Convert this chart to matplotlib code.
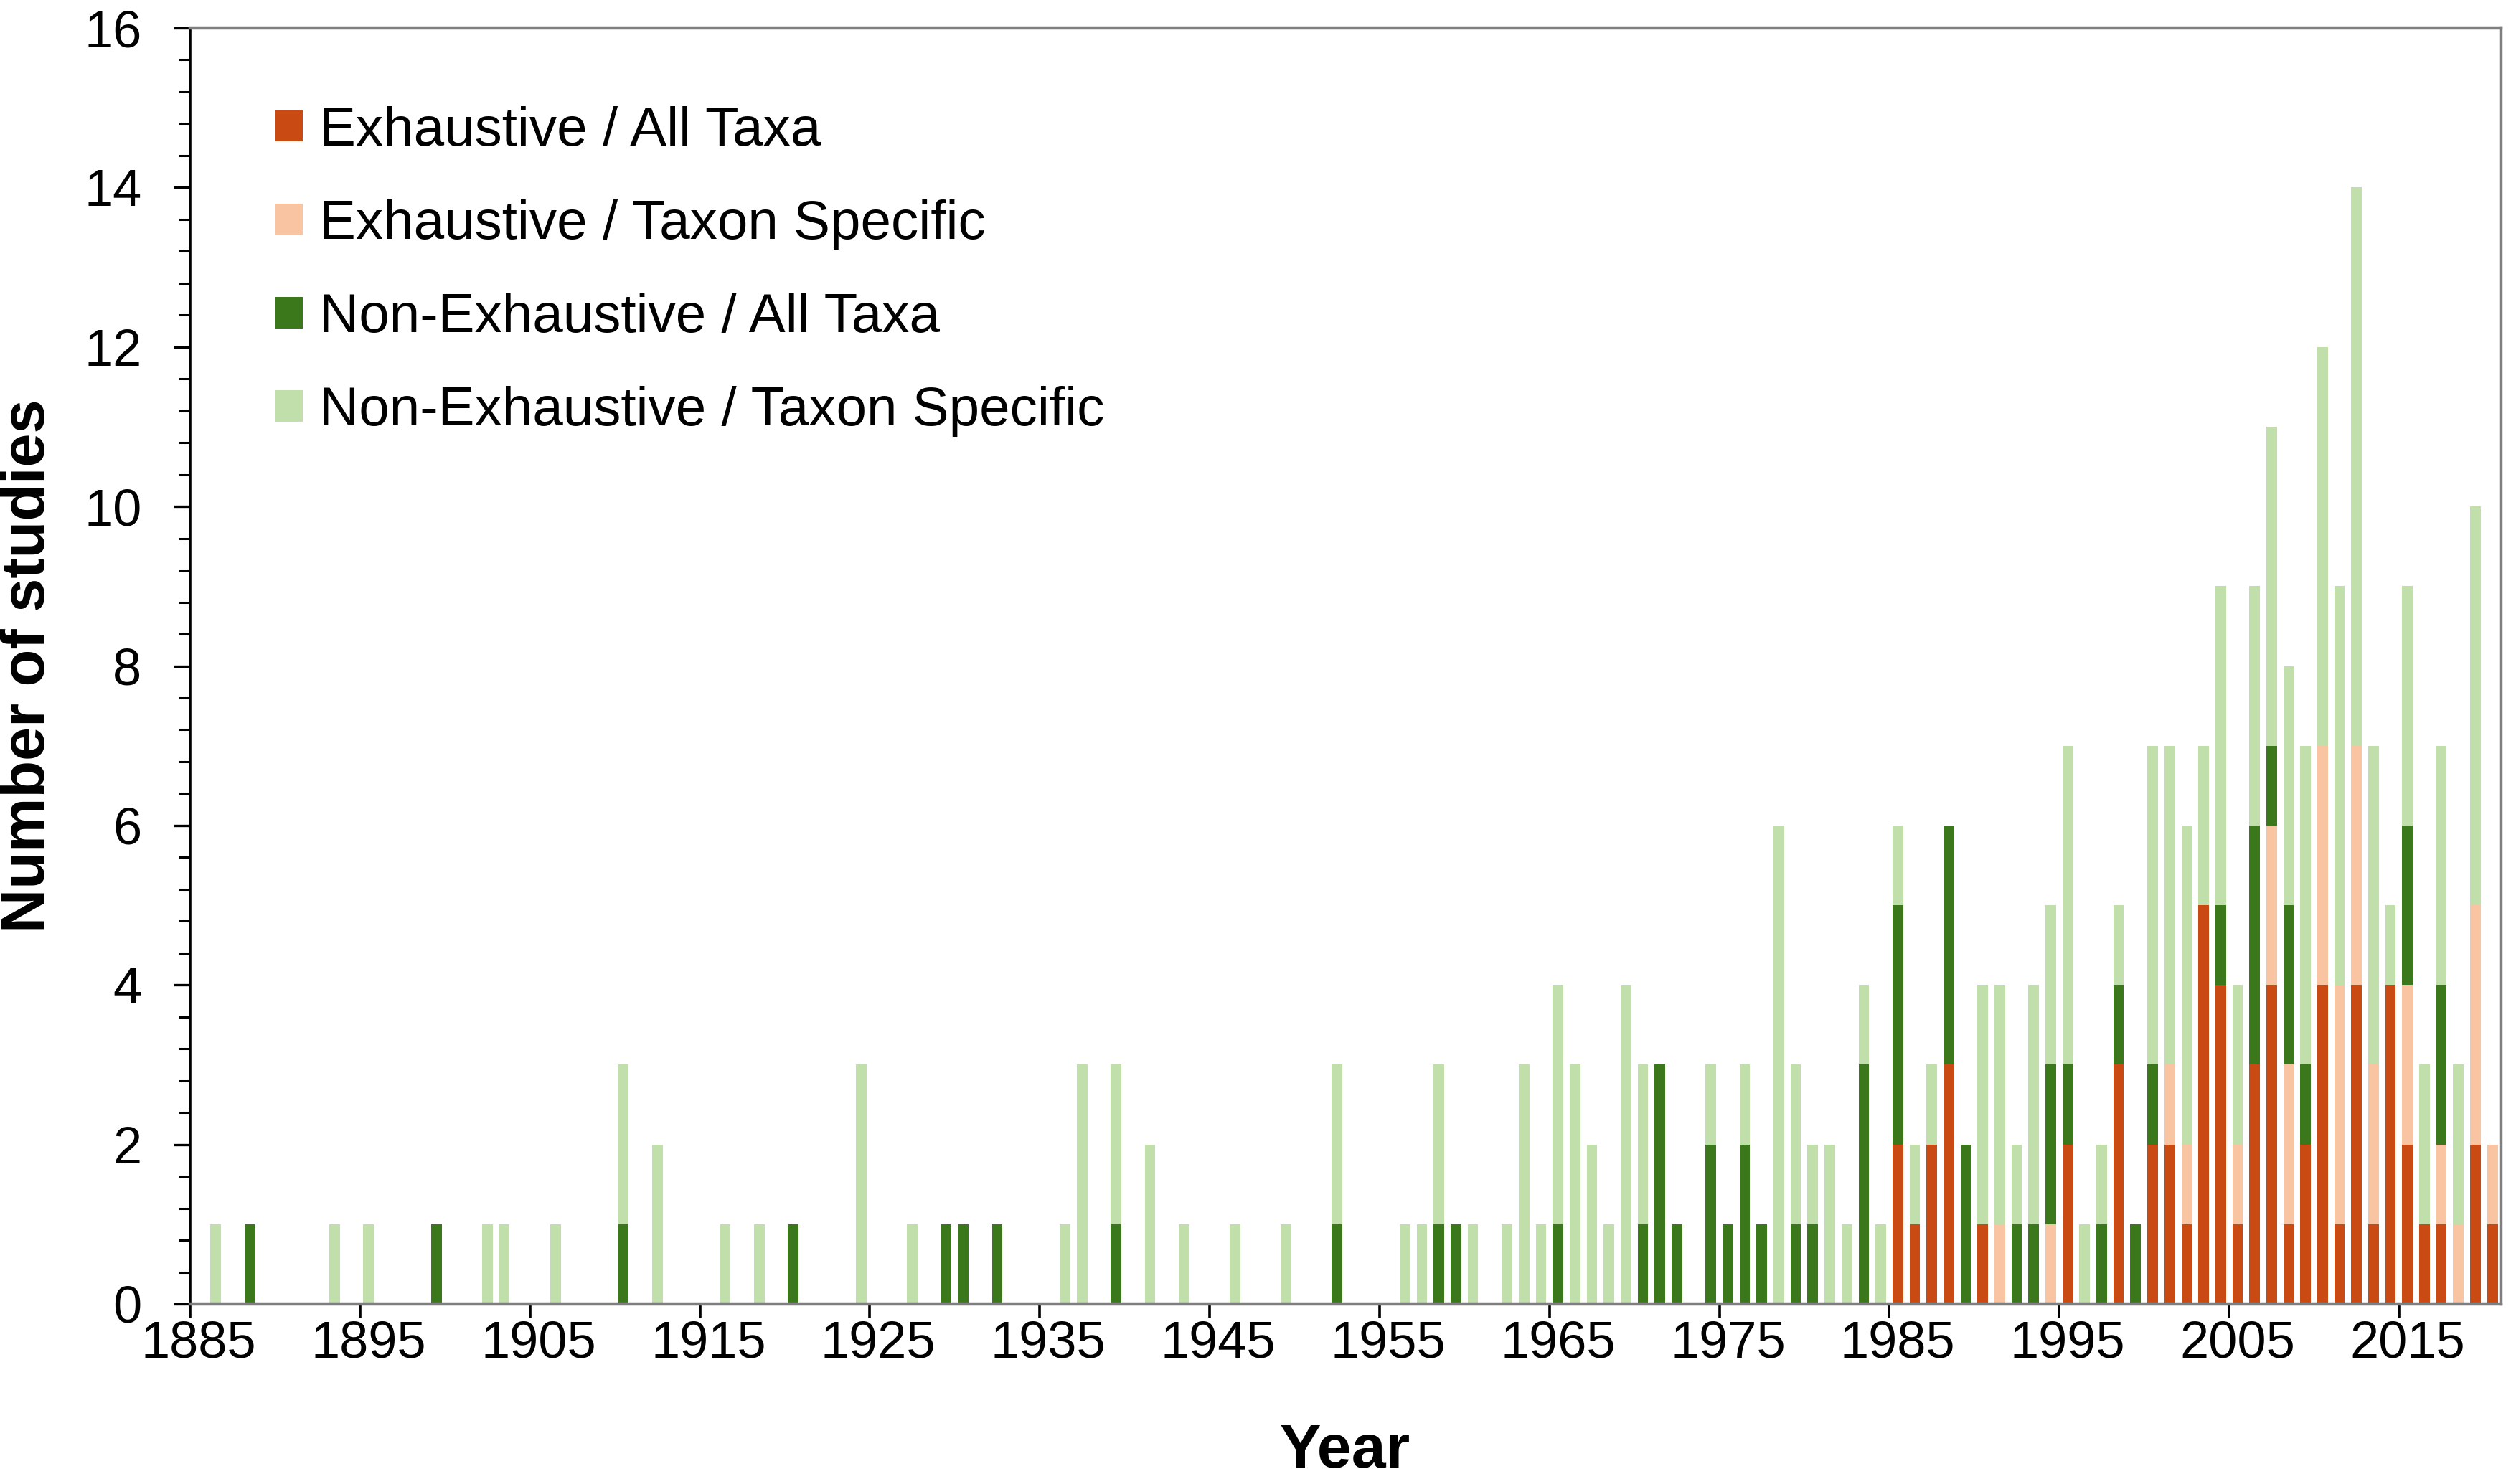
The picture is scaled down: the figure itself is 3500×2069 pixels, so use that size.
import matplotlib
matplotlib.use("Agg")
import matplotlib.pyplot as plt
from matplotlib.patches import Patch
from matplotlib.ticker import MultipleLocator, FixedLocator
import numpy as np

plt.rcParams['font.family'] = ['Liberation Sans', 'DejaVu Sans']

# years that have at least one study (every other year 1885-2020 is zero)
years = [1886, 1888, 1893, 1895, 1899, 1902, 1903, 1906, 1910, 1912,
         1916, 1918, 1920, 1924, 1927, 1929, 1930, 1932, 1936, 1937,
         1939, 1941, 1943, 1946, 1949, 1952, 1956, 1957, 1958, 1959,
         1960, 1962, 1963, 1964, 1965, 1966, 1967, 1968, 1969, 1970,
         1971, 1972, 1974, 1975, 1976, 1977, 1978, 1979, 1980, 1981,
         1982, 1983, 1984, 1985, 1986, 1987, 1988, 1989, 1990, 1991,
         1992, 1993, 1994, 1995, 1996, 1997, 1998, 1999, 2000, 2001,
         2002, 2003, 2004, 2005, 2006, 2007, 2008, 2009, 2010, 2011,
         2012, 2013, 2014, 2015, 2016, 2017, 2018, 2019, 2020]

exh_all = [0, 0, 0, 0, 0, 0, 0, 0, 0, 0,
           0, 0, 0, 0, 0, 0, 0, 0, 0, 0,
           0, 0, 0, 0, 0, 0, 0, 0, 0, 0,
           0, 0, 0, 0, 0, 0, 0, 0, 0, 0,
           0, 0, 0, 0, 0, 0, 0, 0, 0, 0,
           0, 0, 0, 2, 1, 2, 3, 0, 1, 0,
           0, 0, 0, 2, 0, 0, 3, 0, 2, 2,
           1, 5, 4, 1, 3, 4, 1, 2, 4, 1,
           4, 1, 4, 2, 1, 1, 0, 2, 1]

exh_taxon = [0, 0, 0, 0, 0, 0, 0, 0, 0, 0,
             0, 0, 0, 0, 0, 0, 0, 0, 0, 0,
             0, 0, 0, 0, 0, 0, 0, 0, 0, 0,
             0, 0, 0, 0, 0, 0, 0, 0, 0, 0,
             0, 0, 0, 0, 0, 0, 0, 0, 0, 0,
             0, 0, 0, 0, 0, 0, 0, 0, 0, 1,
             0, 0, 1, 0, 0, 0, 0, 0, 0, 1,
             1, 0, 0, 1, 0, 2, 2, 0, 3, 3,
             3, 2, 0, 2, 0, 1, 1, 3, 1]

nonexh_all = [0, 1, 0, 0, 1, 0, 0, 0, 1, 0,
              0, 0, 1, 0, 0, 1, 1, 1, 0, 0,
              1, 0, 0, 0, 0, 1, 0, 0, 1, 1,
              0, 0, 0, 0, 1, 0, 0, 0, 0, 1,
              3, 1, 2, 1, 2, 1, 0, 1, 1, 0,
              0, 3, 0, 3, 0, 0, 3, 2, 0, 0,
              1, 1, 2, 1, 0, 1, 1, 1, 1, 0,
              0, 0, 1, 0, 3, 1, 2, 1, 0, 0,
              0, 0, 0, 2, 0, 2, 0, 0, 0]

nonexh_taxon = [1, 0, 1, 1, 0, 1, 1, 1, 2, 2,
                1, 1, 0, 3, 1, 0, 0, 0, 1, 3,
                2, 2, 1, 1, 1, 2, 1, 1, 2, 0,
                1, 1, 3, 1, 3, 3, 2, 1, 4, 2,
                0, 0, 1, 0, 1, 0, 6, 2, 1, 2,
                1, 1, 1, 1, 1, 1, 0, 0, 3, 3,
                1, 3, 2, 4, 1, 1, 1, 0, 4, 4,
                4, 2, 4, 2, 3, 4, 3, 4, 5, 5,
                7, 4, 1, 3, 2, 3, 2, 5, 0]

labels = ["Exhaustive / All Taxa", "Exhaustive / Taxon Specific",
          "Non-Exhaustive / All Taxa", "Non-Exhaustive / Taxon Specific"]
colors = ["#C94A12", "#F8C4A2", "#3B781C", "#C1DFAB"]

first_year, last_year = 1885, 2020

fig = plt.figure(figsize=(17.5, 10.345), dpi=200)
ax = fig.add_axes([265 / 3500, 1 - 1818 / 2069, 3221 / 3500, 1779 / 2069])

x = np.array(years)
bottom = np.zeros(len(years))
for vals, col in zip([exh_all, exh_taxon, nonexh_all, nonexh_taxon], colors):
    vals = np.array(vals)
    ax.bar(x, vals, width=0.62, bottom=bottom, color=col, linewidth=0)
    bottom += vals

ax.set_xlim(first_year - 0.5, last_year + 0.5)
ax.set_ylim(0, 16)

# labels sit on categories, tick marks sit between categories
ax.set_xticks(np.arange(first_year, last_year + 1, 10))
ax.xaxis.set_minor_locator(FixedLocator(np.arange(first_year - 0.5, last_year, 10)))
ax.tick_params(axis='x', which='major', length=0, pad=8, labelsize=26)
ax.tick_params(axis='x', which='minor', length=7, width=1.3, direction='out')

ax.yaxis.set_major_locator(MultipleLocator(2))
ax.yaxis.set_minor_locator(MultipleLocator(0.4))
ax.tick_params(axis='y', which='major', length=8.3, width=1.2, pad=16, labelsize=26)
ax.tick_params(axis='y', which='minor', length=5.8, width=1.1)

ax.spines['left'].set_color('black')
ax.spines['left'].set_linewidth(1.3)
for side in ['top', 'right', 'bottom']:
    ax.spines[side].set_color('#7f7f7f')
    ax.spines[side].set_linewidth(1.6)

fig.text(1875 / 3500, 1 - 2024 / 2069, "Year", fontsize=31, fontweight='bold',
         ha='center', va='center')
fig.text(40 / 3500, 1 - 928 / 2069, "Number of studies", fontsize=30.5,
         fontweight='bold', ha='center', va='center', rotation=90)

handles = [Patch(facecolor=c, edgecolor='none') for c in colors]
ax.legend(handles, labels, loc='upper left', bbox_to_anchor=(0.037, 0.939),
          frameon=False, fontsize=27.5, handlelength=0.5, handleheight=0.5,
          handletextpad=0.3, labelspacing=0.775, borderaxespad=0, borderpad=0)

plt.savefig("out.png", dpi=200)
